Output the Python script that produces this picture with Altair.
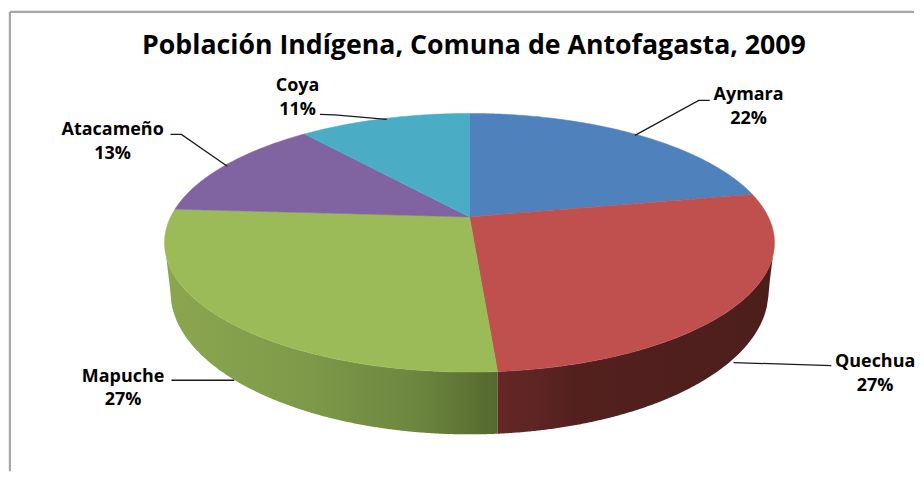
import math
import altair as alt
import pandas as pd

title = "Población Indígena, Comuna de Antofagasta, 2009"
groups = ["Aymara", "Quechua", "Mapuche", "Atacameño", "Coya"]
shares = [22.0, 26.8, 27.2, 13.0, 11.0]
shown = [22, 27, 27, 13, 11]
colors = ["#4f81bd", "#c0504d", "#9bbb59", "#8064a2", "#4bacc6"]

# Layout of the tilted disc, in screen units
CX, CY, RX, RY, TILT = 470.0, 242.75, 306.0, 129.75, 0.2
BRX, BCY, BRY = 300.0, 292.0, 143.0


def project(share_pos):
    """Position on the disc rim for a cumulative share, in perspective."""
    a = share_pos / 100 * 2 * math.pi
    u, v = math.sin(a), math.cos(a)
    d = 1 + TILT * v
    return CX + RX * u * math.sqrt(1 - TILT**2) / d, CY - RY * (v + TILT) / d


APEX = (CX, CY - RY * TILT)


def spans(poly):
    """Upper and lower boundary of a convex polygon for each x."""
    xs = sorted({round(p[0], 2) for p in poly})
    rows = []
    n = len(poly)
    for x in xs:
        ys = []
        for i in range(n):
            (x0, y0), (x1, y1) = poly[i], poly[(i + 1) % n]
            lo, hi = min(x0, x1), max(x0, x1)
            if lo - 0.006 <= x <= hi + 0.006:
                if abs(x1 - x0) < 1e-6:
                    ys += [y0, y1]
                else:
                    t = min(1, max(0, (x - x0) / (x1 - x0)))
                    ys.append(y0 + t * (y1 - y0))
        rows.append((x, min(ys), max(ys)))
    return rows


rows = []
cum = 0.0
for g, s in zip(groups, shares):
    steps = max(2, int(s * 6))
    poly = [APEX] + [project(cum + s * i / steps) for i in range(steps + 1)]
    for x, y0, y1 in spans(poly):
        rows.append({"group": g, "x": x, "y": y0, "y2": y1})
    cum += s
tops = pd.DataFrame(rows)


def rim_y(x):
    k = min(1.0, abs(x - CX) / RX)
    return CY + RY * math.sqrt(1 - k * k)


def base_y(x):
    d = abs(x - CX)
    if d <= BRX:
        return BCY + BRY * math.sqrt(max(0, 1 - (d / BRX) ** 2))
    return CY + (BCY - CY) * (RX - d) / (RX - BRX)


seam = project(shares[0] + shares[1])[0]
left = pd.DataFrame(
    [{"x": x, "y": rim_y(x), "y2": base_y(x)}
     for x in [CX - RX + i * (seam - CX + RX) / 240 for i in range(241)]]
)
right = pd.DataFrame(
    [{"x": x, "y": rim_y(x), "y2": base_y(x)}
     for x in [seam + i * (CX + RX - seam) / 180 for i in range(181)]]
)

xs = alt.Scale(domain=[8, 916], range=[0, 908])
ys = alt.Scale(domain=[472, 8], range=[464, 0])
X = alt.X("x:Q", scale=xs, axis=None)
Y = alt.Y("y:Q", scale=ys, axis=None)
Y2 = alt.Y2("y2:Q")


def wall(df, stops):
    grad = alt.Gradient(
        gradient="linear", x1=0, x2=1, y1=0, y2=0,
        stops=[alt.GradientStop(color=c, offset=o) for o, c in stops],
    )
    return alt.Chart(df).mark_area(color=grad, interpolate="linear").encode(x=X, y=Y, y2=Y2)


left_wall = wall(left, [(0, "#8ca64f"), (0.4, "#7f9b4a"), (0.75, "#6d873f"), (1, "#54692e")])
right_wall = wall(right, [(0, "#652826"), (0.3, "#53201e"), (1, "#4b1e1c")])

top = alt.Chart(tops).mark_area(interpolate="linear", strokeWidth=0.5).encode(
    x=X, y=Y, y2=Y2,
    color=alt.Color("group:N", scale=alt.Scale(domain=groups, range=colors), legend=None),
    stroke=alt.Stroke("group:N", scale=alt.Scale(domain=groups, range=colors), legend=None),
)

# Frame of the picture: only its top and left edges fall inside the window
frame = pd.DataFrame([
    {"x": 8.9, "y": 11.2, "x2": 916, "y2": 11.2},
    {"x": 8.9, "y": 11.2, "x2": 8.9, "y2": 472},
])
frame_marks = alt.Chart(frame).mark_rule(color="#a6a6a6", strokeWidth=2.2).encode(
    x=X, y=Y, x2="x2:Q", y2=Y2
)

leaders = pd.DataFrame(
    [{"group": "Aymara", "i": i, "x": x, "y": y} for i, (x, y) in enumerate([(636, 135), (700, 100), (711, 100)])]
    + [{"group": "Coya", "i": i, "x": x, "y": y} for i, (x, y) in enumerate([(387, 119), (335, 114.5), (320, 114)])]
    + [{"group": "Atacameño", "i": i, "x": x, "y": y} for i, (x, y) in enumerate([(170, 134), (181, 134), (227, 166)])]
    + [{"group": "Mapuche", "i": i, "x": x, "y": y} for i, (x, y) in enumerate([(171, 380.7), (234, 380.7)])]
    + [{"group": "Quechua", "i": i, "x": x, "y": y} for i, (x, y) in enumerate([(735, 363), (833, 366)])]
)
leader_marks = alt.Chart(leaders).mark_line(color="#1a1a1a", strokeWidth=1.3).encode(
    x=X, y=Y, detail="group:N", order="i:Q"
)

anchors = {
    "Aymara": (750, 100),
    "Coya": (297.5, 91),
    "Atacameño": (112, 135),
    "Mapuche": (122.5, 382),
    "Quechua": (877, 367),
}
labels = []
for g, v in zip(groups, shown):
    ax, ay = anchors[g]
    labels.append({"x": ax, "y": ay, "text": g})
    labels.append({"x": ax, "y": ay + 24, "text": f"{v}%"})
label_marks = alt.Chart(pd.DataFrame(labels)).mark_text(
    font="Open Sans", fontWeight="bold", fontSize=18, color="#000000", align="center", baseline="alphabetic"
).encode(x=X, y=Y, text="text:N")

title_mark = alt.Chart(pd.DataFrame([{"x": 474.5, "y": 53, "text": title}])).mark_text(
    font="Open Sans", fontWeight="bold", fontSize=26.8, color="#000000", align="center", baseline="alphabetic"
).encode(x=X, y=Y, text="text:N")

chart = alt.layer(
    frame_marks, left_wall, right_wall, top, leader_marks, label_marks, title_mark
).properties(
    width=908, height=464, padding=0, background="#ffffff"
).configure_view(stroke=None)

chart.save("out.html", embed_options={"renderer": "svg", "actions": False})
